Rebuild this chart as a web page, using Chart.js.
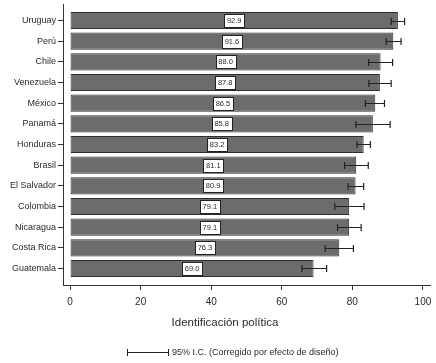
<!DOCTYPE html>
<html>
<head>
<meta charset="utf-8">
<script src="https://cdn.jsdelivr.net/npm/chart.js@4/dist/chart.umd.min.js"></script>
<style>
  html, body { margin: 0; padding: 0; background: #fff; }
  #wrap { width: 436px; height: 363px; }
</style>
</head>
<body>
<div id="wrap"><canvas id="idChart"></canvas></div>
<script>
// Countries and values
var countries = ['Uruguay', 'Perú', 'Chile', 'Venezuela', 'México', 'Panamá', 'Honduras',
                 'Brasil', 'El Salvador', 'Colombia', 'Nicaragua', 'Costa Rica', 'Guatemala'];
var means = [92.9, 91.6, 88.0, 87.8, 86.5, 85.8, 83.2, 81.1, 80.9, 79.1, 79.1, 76.3, 69.0];
var ciLow = [91.0, 89.6, 84.6, 84.7, 83.7, 81.0, 81.3, 77.8, 78.8, 75.0, 75.8, 72.3, 65.7];
var ciHigh = [94.8, 93.8, 91.4, 91.0, 89.1, 90.7, 85.1, 84.5, 83.2, 83.3, 82.5, 80.3, 72.7];
var xTicks = [0, 20, 40, 60, 80, 100];

var axisTitle = 'Identificación política';
var legendText = '95% I.C. (Corregido por efecto de diseño)';

var ink = '#333333';
var textInk = '#2a2a2a';

// error bars and boxed value labels
var decorations = {
    id: 'decorations',
    afterDatasetsDraw: function(chart) {
        var ctx = chart.ctx;
        var xs = chart.scales.x, ys = chart.scales.y;
        ctx.save();
        ctx.strokeStyle = '#222';
        ctx.lineWidth = 1.2;
        for (var i = 0; i < means.length; i++) {
            var y = Math.round(ys.getPixelForValue(i)) + 0.5;
            var x1 = xs.getPixelForValue(ciLow[i]);
            var x2 = xs.getPixelForValue(ciHigh[i]);
            ctx.beginPath();
            ctx.moveTo(x1, y); ctx.lineTo(x2, y);
            ctx.moveTo(x1, y - 3.5); ctx.lineTo(x1, y + 3.5);
            ctx.moveTo(x2, y - 3.5); ctx.lineTo(x2, y + 3.5);
            ctx.stroke();
        }
        // value labels in the middle of each bar
        var meta = chart.getDatasetMeta(0);
        ctx.font = '7.5px "Liberation Sans", Arial, sans-serif';
        ctx.textAlign = 'center';
        ctx.textBaseline = 'middle';
        meta.data.forEach(function(bar, i) {
            var txt = means[i].toFixed(1);
            var cx = (bar.x + bar.base) / 2;
            var cy = bar.y;
            var w = Math.round(ctx.measureText(txt).width + 5);
            var h = 13;
            var bx = Math.round(cx - w / 2) + 0.5, by = Math.round(cy - h / 2) + 0.5;
            ctx.fillStyle = '#fff';
            ctx.fillRect(bx, by, w, h);
            ctx.strokeStyle = '#222';
            ctx.lineWidth = 1;
            ctx.strokeRect(bx, by, w, h);
            ctx.fillStyle = textInk;
            ctx.fillText(txt, cx, cy + 0.5);
        });
        ctx.restore();
    },
    afterDraw: function(chart) {
        var ctx = chart.ctx;
        ctx.save();
        ctx.fillStyle = textInk;
        ctx.textBaseline = 'middle';
        ctx.textAlign = 'center';
        ctx.font = '11.5px "Liberation Sans", Arial, sans-serif';
        ctx.fillText(axisTitle, 225, 323);
        // legend
        var ly = 352.5;
        ctx.strokeStyle = '#222';
        ctx.lineWidth = 1;
        ctx.beginPath();
        ctx.moveTo(127, ly); ctx.lineTo(169, ly);
        ctx.moveTo(127.5, ly - 3.5); ctx.lineTo(127.5, ly + 3.5);
        ctx.moveTo(168.5, ly - 3.5); ctx.lineTo(168.5, ly + 3.5);
        ctx.stroke();
        ctx.textAlign = 'left';
        ctx.font = '9px "Liberation Sans", Arial, sans-serif';
        ctx.fillText(legendText, 172, ly);
        ctx.restore();
    }
};

var barData = means.map(function(v, i) { return { x: v, y: i }; });

var ctx = document.getElementById('idChart').getContext('2d');
var idChart = new Chart(ctx, {
    type: 'bar',
    data: {
        datasets: [{
            data: barData,
            backgroundColor: '#6c6c6c',
            borderColor: '#2e2e2e',
            borderWidth: 1,
            borderSkipped: false,
            categoryPercentage: 1,
            barPercentage: 0.83
        }]
    },
    options: {
        indexAxis: 'y',
        responsive: true,
        maintainAspectRatio: false,
        animation: false,
        layout: { padding: { top: 4, right: 6, left: 0, bottom: 0 } },
        plugins: {
            legend: { display: false },
            tooltip: { enabled: false }
        },
        scales: {
            x: {
                type: 'linear',
                min: -2,
                max: 102,
                afterBuildTicks: function(scale) {
                    scale.ticks = xTicks.map(function(v) { return { value: v }; });
                },
                afterFit: function(scale) {
                    scale.height = 78;
                    scale.paddingLeft = 0;
                    scale.paddingRight = 0;
                },
                grid: { display: true, drawOnChartArea: false, drawTicks: true, tickLength: 5, color: ink },
                border: { display: true, color: ink, width: 1 },
                ticks: {
                    padding: 6,
                    color: textInk,
                    font: { family: '"Liberation Sans", Arial, sans-serif', size: 10 },
                    maxRotation: 0
                }
            },
            y: {
                type: 'linear',
                reverse: true,
                offset: false,
                min: -0.8,
                max: 12.8,
                afterBuildTicks: function(scale) {
                    scale.ticks = countries.map(function(c, i) { return { value: i }; });
                },
                afterFit: function(scale) {
                    scale.width = 63;
                    scale.paddingTop = 0;
                    scale.paddingBottom = 0;
                },
                grid: { display: true, offset: false, drawOnChartArea: false, drawTicks: true, tickLength: 5, color: ink },
                border: { display: true, color: ink, width: 1 },
                ticks: {
                    padding: 2,
                    color: textInk,
                    font: { family: '"Liberation Sans", Arial, sans-serif', size: 9 },
                    callback: function(v) { return countries[v]; }
                }
            }
        }
    },
    plugins: [decorations]
});
</script>
</body>
</html>
